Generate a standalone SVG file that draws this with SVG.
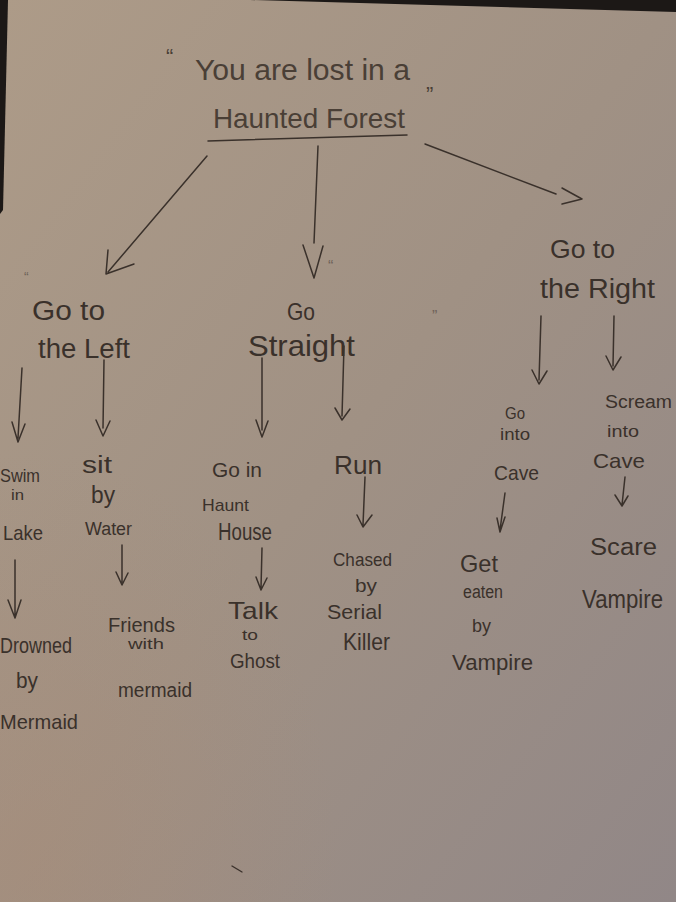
<svg xmlns="http://www.w3.org/2000/svg" width="676" height="902" viewBox="0 0 676 902">
<defs>
<linearGradient id="paper" x1="0" y1="0" x2="1" y2="1">
<stop offset="0" stop-color="#ad9b88"/>
<stop offset="0.5" stop-color="#a09184"/>
<stop offset="1" stop-color="#918787"/>
</linearGradient>
<radialGradient id="warm" cx="0.05" cy="0.95" r="0.45">
<stop offset="0" stop-color="#a98a74" stop-opacity="0.4"/>
<stop offset="1" stop-color="#a98a74" stop-opacity="0"/>
</radialGradient>
<style>
.t{font-family:"Liberation Sans","DejaVu Sans",sans-serif;fill:#3a312b;font-weight:normal}
.title{fill:#4a3f36}
.faint{font-family:"Liberation Sans",sans-serif;fill:#6e6259}
.ink{fill:none;stroke:#3a312b;stroke-width:1.5;stroke-linecap:round;stroke-linejoin:round}
</style>
</defs>
<rect width="676" height="902" fill="url(#paper)"/>
<rect width="676" height="902" fill="url(#warm)"/>
<polygon points="250,0 676,0 676,12" fill="#1c1816"/>
<polygon points="0,0 8,0 3,210 0,214" fill="#1c1816"/>

<g id="connectors" class="ink">
<path d="M208,141 L407,135"/>
<path d="M207,156 L108,272 M108,250 L106,274 L134,264"/>
<path d="M318,146 L314,243 M303,245 L314,278 L323,246"/>
<path d="M425,144 L556,194 M562,188 L582,199 L562,204"/>
<path d="M22,368 L18,438 M12,422 L18,442 L25,424"/>
<path d="M104,360 L103,428 M96,420 L103,436 L110,421"/>
<path d="M262,358 L262,430 M256,420 L262,437 L268,421"/>
<path d="M344,346 L342,416 M335,408 L342,420 L350,409"/>
<path d="M541,316 L539,380 M532,370 L539,384 L547,371"/>
<path d="M614,316 L613,366 M606,356 L613,370 L621,357"/>
<path d="M15,560 L15,616 M8,600 L15,618 L21,600"/>
<path d="M122,545 L122,582 M116,572 L122,585 L128,573"/>
<path d="M262,548 L261,588 M256,577 L261,590 L267,578"/>
<path d="M365,477 L363,525 M357,515 L363,527 L372,515"/>
<path d="M505,493 L500,530 M497,518 L500,532 L505,517"/>
<path d="M625,477 L622,505 M615,495 L622,506 L628,496"/>
<path d="M232,866 L242,872" stroke-width="1.4"/>
</g>

<g id="title">
<text class="t title" x="166" y="64" font-size="22">“</text>
<text class="t title" x="195" y="80" font-size="30" textLength="215" lengthAdjust="spacingAndGlyphs">You are lost in a</text>
<text class="t title" x="426" y="102" font-size="22">”</text>
<text class="t title" x="213" y="128" font-size="28" textLength="192" lengthAdjust="spacingAndGlyphs">Haunted Forest</text>
</g>

<g id="go-left">
<text class="faint" x="24" y="282" font-size="14">“</text>
<text class="t" x="32" y="320" font-size="27" textLength="73" lengthAdjust="spacingAndGlyphs">Go to</text>
<text class="t" x="38" y="358" font-size="27" textLength="92" lengthAdjust="spacingAndGlyphs">the Left</text>
</g>

<g id="go-straight">
<text class="faint" x="328" y="272" font-size="16">“</text>
<text class="t" x="287" y="320" font-size="24" textLength="28" lengthAdjust="spacingAndGlyphs">Go</text>
<text class="t" x="248" y="356" font-size="29" textLength="107" lengthAdjust="spacingAndGlyphs">Straight</text>
<text class="faint" x="432" y="322" font-size="16">”</text>
</g>

<g id="go-right">
<text class="t" x="550" y="258" font-size="26" textLength="65" lengthAdjust="spacingAndGlyphs">Go to</text>
<text class="t" x="540" y="298" font-size="27" textLength="115" lengthAdjust="spacingAndGlyphs">the Right</text>
</g>

<g id="swim">
<text class="t" x="0" y="482" font-size="18" textLength="40" lengthAdjust="spacingAndGlyphs">Swim</text>
<text class="t" x="11" y="500" font-size="15" textLength="13" lengthAdjust="spacingAndGlyphs">in</text>
<text class="t" x="3" y="540" font-size="21" textLength="40" lengthAdjust="spacingAndGlyphs">Lake</text>
</g>

<g id="sit">
<text class="t" x="82" y="473" font-size="23" textLength="30" lengthAdjust="spacingAndGlyphs">sit</text>
<text class="t" x="91" y="503" font-size="23" textLength="24" lengthAdjust="spacingAndGlyphs">by</text>
<text class="t" x="85" y="535" font-size="18" textLength="47" lengthAdjust="spacingAndGlyphs">Water</text>
</g>

<g id="haunt-house">
<text class="t" x="212" y="477" font-size="20" textLength="50" lengthAdjust="spacingAndGlyphs">Go in</text>
<text class="t" x="202" y="511" font-size="17" textLength="47" lengthAdjust="spacingAndGlyphs">Haunt</text>
<text class="t" x="218" y="540" font-size="23" textLength="54" lengthAdjust="spacingAndGlyphs">House</text>
</g>

<g id="run">
<text class="t" x="334" y="474" font-size="25" textLength="48" lengthAdjust="spacingAndGlyphs">Run</text>
</g>

<g id="into-cave">
<text class="t" x="505" y="419" font-size="17" textLength="20" lengthAdjust="spacingAndGlyphs">Go</text>
<text class="t" x="500" y="440" font-size="16" textLength="30" lengthAdjust="spacingAndGlyphs">into</text>
<text class="t" x="494" y="480" font-size="21" textLength="45" lengthAdjust="spacingAndGlyphs">Cave</text>
</g>

<g id="scream">
<text class="t" x="605" y="408" font-size="18" textLength="67" lengthAdjust="spacingAndGlyphs">Scream</text>
<text class="t" x="607" y="437" font-size="17" textLength="32" lengthAdjust="spacingAndGlyphs">into</text>
<text class="t" x="593" y="468" font-size="21" textLength="52" lengthAdjust="spacingAndGlyphs">Cave</text>
</g>

<g id="drowned">
<text class="t" x="0" y="653" font-size="22" textLength="72" lengthAdjust="spacingAndGlyphs">Drowned</text>
<text class="t" x="16" y="688" font-size="22" textLength="22" lengthAdjust="spacingAndGlyphs">by</text>
<text class="t" x="0" y="729" font-size="21" textLength="78" lengthAdjust="spacingAndGlyphs">Mermaid</text>
</g>

<g id="friends">
<text class="t" x="108" y="632" font-size="20" textLength="67" lengthAdjust="spacingAndGlyphs">Friends</text>
<text class="t" x="128" y="649" font-size="14" textLength="36" lengthAdjust="spacingAndGlyphs">with</text>
<text class="t" x="118" y="697" font-size="20" textLength="74" lengthAdjust="spacingAndGlyphs">mermaid</text>
</g>

<g id="ghost">
<text class="t" x="228" y="619" font-size="24" textLength="50" lengthAdjust="spacingAndGlyphs">Talk</text>
<text class="t" x="242" y="640" font-size="15" textLength="16" lengthAdjust="spacingAndGlyphs">to</text>
<text class="t" x="230" y="668" font-size="20" textLength="50" lengthAdjust="spacingAndGlyphs">Ghost</text>
</g>

<g id="killer">
<text class="t" x="333" y="566" font-size="19" textLength="59" lengthAdjust="spacingAndGlyphs">Chased</text>
<text class="t" x="355" y="592" font-size="19" textLength="22" lengthAdjust="spacingAndGlyphs">by</text>
<text class="t" x="327" y="619" font-size="21" textLength="55" lengthAdjust="spacingAndGlyphs">Serial</text>
<text class="t" x="343" y="650" font-size="24" textLength="47" lengthAdjust="spacingAndGlyphs">Killer</text>
</g>

<g id="eaten">
<text class="t" x="460" y="572" font-size="24" textLength="38" lengthAdjust="spacingAndGlyphs">Get</text>
<text class="t" x="463" y="598" font-size="18" textLength="40" lengthAdjust="spacingAndGlyphs">eaten</text>
<text class="t" x="472" y="632" font-size="19" textLength="19" lengthAdjust="spacingAndGlyphs">by</text>
<text class="t" x="452" y="670" font-size="22" textLength="81" lengthAdjust="spacingAndGlyphs">Vampire</text>
</g>

<g id="scare">
<text class="t" x="590" y="555" font-size="23" textLength="67" lengthAdjust="spacingAndGlyphs">Scare</text>
<text class="t" x="582" y="608" font-size="25" textLength="81" lengthAdjust="spacingAndGlyphs">Vampire</text>
</g>
</svg>
